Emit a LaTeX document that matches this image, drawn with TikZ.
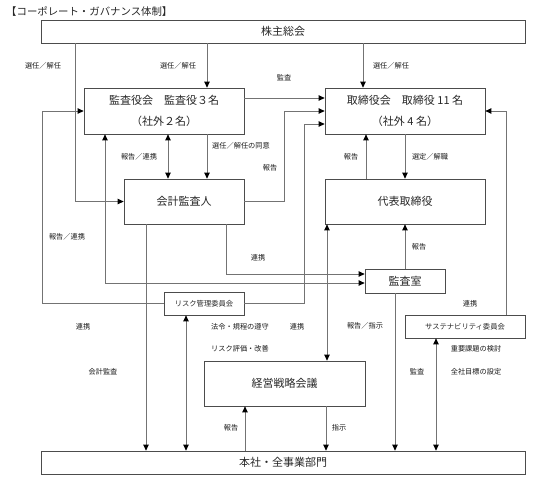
\documentclass[tikz,border=0pt]{standalone}
\usepackage{fontspec}
\setmainfont{Noto Sans CJK JP}
\usetikzlibrary{arrows.meta}
\begin{document}
\begin{tikzpicture}[x=1pt,y=-1pt,
  >={Triangle[length=6pt,width=5.5pt,color=black]},
  gbox/.style={draw=black!70,line width=0.75pt,inner sep=0pt,text=black!85,font=\fontsize{11}{21}\selectfont,align=center},
  lbl/.style={text=black!90,font=\fontsize{7.2}{8}\selectfont,inner sep=0pt},
  conn/.style={draw=black!55,line width=0.9pt},
  ar/.style={conn,->},
  dar/.style={conn,<->}]
\useasboundingbox (0,0) rectangle (533,483);

% title
\node[anchor=west,inner sep=0pt,text=black!85,font=\fontsize{10.4}{12}\selectfont] (title) at (6,11.5) {【コーポレート・ガバナンス体制】};

% boxes
\node[gbox,minimum width=484pt,minimum height=23pt] (kabu) at (283,31.5) {株主総会};
\node[gbox,minimum width=160pt,minimum height=46pt] (ka) at (164,111) {監査役会　監査役３名\\（社外２名）};
\node[gbox,minimum width=160pt,minimum height=46pt] (tb) at (405,111) {取締役会　取締役 11 名\\（社外 4 名）};
\node[gbox,minimum width=120pt,minimum height=45pt] (ks) at (184,201.5) {会計監査人};
\node[gbox,minimum width=160pt,minimum height=45pt] (dh) at (405,201.5) {代表取締役};
\node[gbox,minimum width=80pt,minimum height=24pt] (kr) at (405,281) {監査室};
\node[gbox,minimum width=80pt,minimum height=23pt,font=\fontsize{7.3}{9}\selectfont] (rk) at (204,303.5) {リスク管理委員会};
\node[gbox,minimum width=120pt,minimum height=23pt,font=\fontsize{7.3}{9}\selectfont] (sc) at (465,326.5) {サステナビリティ委員会};
\node[gbox,minimum width=161pt,minimum height=45pt] (ke) at (284.5,383.5) {経営戦略会議};
\node[gbox,minimum width=484pt,minimum height=23pt] (hs) at (283,462.5) {本社・全事業部門};

% column / row helpers
\coordinate (x42) at (42,0);
\coordinate (x75) at (75,0);
\coordinate (x105) at (105,0);
\coordinate (x146) at (146,0);
\coordinate (x168) at (168,0);
\coordinate (x186) at (186,0);
\coordinate (x207) at (207,0);
\coordinate (x226) at (226,0);
\coordinate (x245) at (245,0);
\coordinate (x284) at (284,0);
\coordinate (x304) at (304,0);
\coordinate (x326) at (326,0);
\coordinate (x327) at (327,0);
\coordinate (x363) at (363,0);
\coordinate (x366) at (366,0);
\coordinate (x395) at (395,0);
\coordinate (x436) at (436,0);
\coordinate (x506) at (506,0);
\coordinate (y98) at (0,98);
\coordinate (y111) at (0,111);
\coordinate (y124) at (0,124);
\coordinate (y274) at (0,274);
\coordinate (y283) at (0,283);

% connectors
\draw[ar] (kabu.south -| x75) -- (x75 |- ks.west) -- (ks.west);
\draw[ar] (kabu.south -| x207) -- (ka.north -| x207);
\draw[ar] (kabu.south -| x363) -- (tb.north -| x363);
\draw[ar] (ka.east |- y98) -- (tb.west |- y98);
\draw[ar] (ks.east) -| (x284 |- y111) -- (tb.west |- y111);
\draw[ar] (rk.east) -| (x304 |- y124) -- (tb.west |- y124);
\draw[dar] (ka.south -| x168) -- (ks.north -| x168);
\draw[ar] (ka.south -| x207) -- (ks.north -| x207);
\draw[ar] (ks.south -| x226) |- (kr.west |- y274);
\draw[dar] (ka.south -| x105) |- (kr.west |- y283);
\draw[ar] (rk.west) -| (x42 |- ka.west) -- (ka.west);
\draw[ar] (dh.north -| x366) -- (tb.south -| x366);
\draw[ar] (tb.south -| kr.north) -- (dh.north -| kr.north);
\draw[ar] (kr.north) -- (dh.south -| kr.north);
\draw[ar] (sc.north -| x506) |- (tb.east);
\draw[dar] (dh.south -| x327) -- (ke.north -| x327);
\draw[ar] (kr.south -| x395) -- (hs.north -| x395);
\draw[dar] (sc.south -| x436) -- (hs.north -| x436);
\draw[ar] (ke.south -| x326) -- (hs.north -| x326);
\draw[ar] (hs.north -| x245) -- (ke.south -| x245);
\draw[ar] (ks.south -| x146) -- (hs.north -| x146);
\draw[dar] (rk.south -| x186) -- (hs.north -| x186);

% labels
\node[lbl] (l1) at (43,66) {選任／解任};
\node[lbl] (l2) at (178,66) {選任／解任};
\node[lbl] (l3) at (391,66) {選任／解任};
\node[lbl] (l4) at (284,78) {監査};
\node[lbl] (l5) at (139,157) {報告／連携};
\node[lbl] (l6) at (241,146) {選任／解任の同意};
\node[lbl] (l7) at (270,168) {報告};
\node[lbl] (l8) at (351,157) {報告};
\node[lbl] (l9) at (430,157) {選定／解職};
\node[lbl] (l10) at (67,237) {報告／連携};
\node[lbl] (l11) at (258,258) {連携};
\node[lbl] (l12) at (419,247) {報告};
\node[lbl] (l13) at (470,304) {連携};
\node[lbl] (l14) at (83,327) {連携};
\node[lbl] (l15) at (240,327) {法令・規程の遵守};
\node[lbl] (l16) at (297,327) {連携};
\node[lbl] (l17) at (365,326) {報告／指示};
\node[lbl] (l18) at (240,349) {リスク評価・改善};
\node[lbl] (l19) at (476,349) {重要課題の検討};
\node[lbl] (l20) at (103,372) {会計監査};
\node[lbl] (l21) at (417,372) {監査};
\node[lbl] (l22) at (476,372) {全社目標の設定};
\node[lbl] (l23) at (231,428) {報告};
\node[lbl] (l24) at (339,428) {指示};
\end{tikzpicture}
\end{document}
